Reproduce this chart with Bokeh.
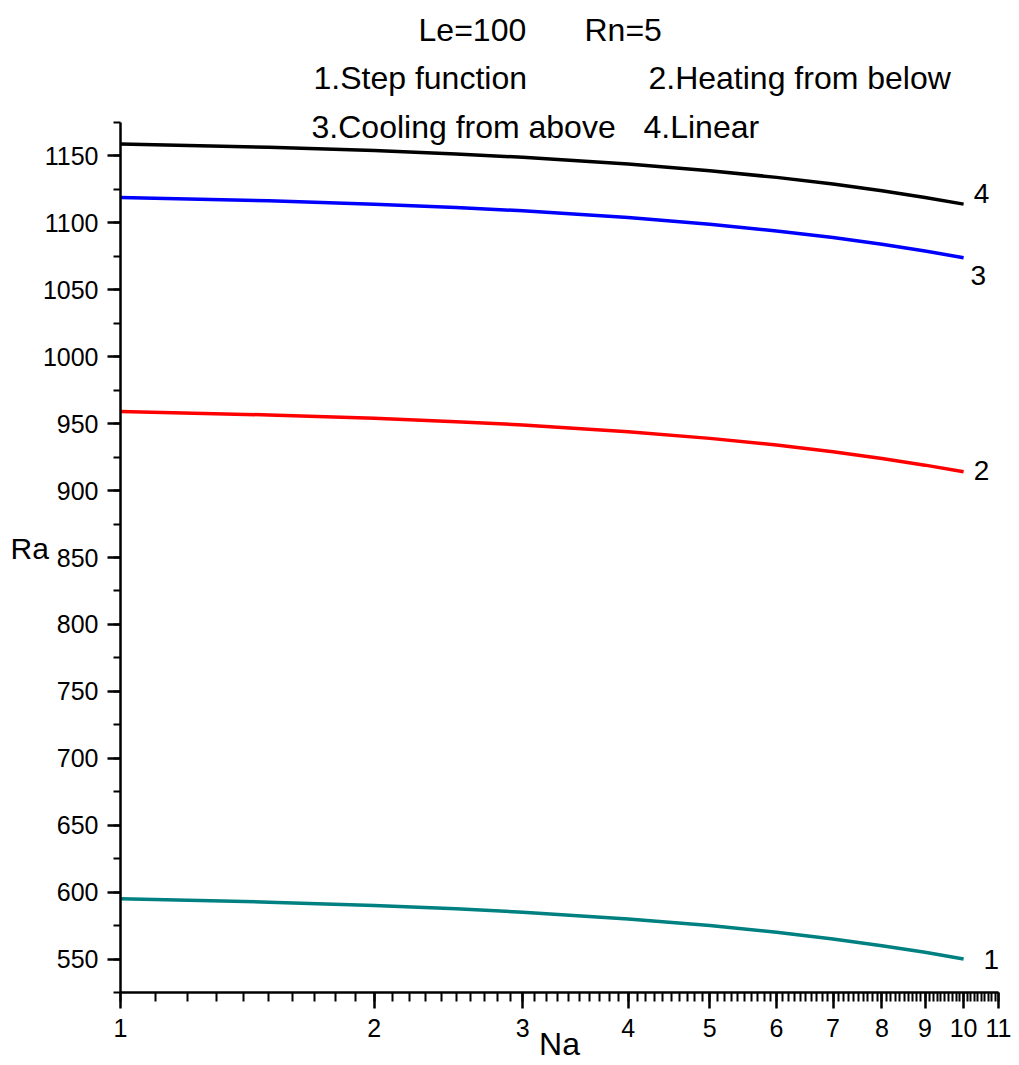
from bokeh.plotting import figure
from bokeh.models import FixedTicker, Label, PrintfTickFormatter
from bokeh.layouts import column
from bokeh.embed import file_html
from bokeh.resources import INLINE

# Data
na = [1, 1.5, 2, 2.5, 3, 4, 5, 6, 7, 8, 9, 10]
ra_step = [595, 592.5, 590, 587.5, 585, 580, 575, 570, 565, 560, 555, 550]
ra_heat = [959, 956.5, 954, 951.5, 949, 944, 939, 934, 929, 924, 919, 914]
ra_cool = [1119, 1116.5, 1114, 1111.5, 1109, 1104, 1099, 1094, 1089, 1084, 1079, 1074]
ra_lin = [1159, 1156.5, 1154, 1151.5, 1149, 1144, 1139, 1134, 1129, 1124, 1119, 1114]

x_major = [1, 2, 3, 4, 5, 6, 7, 8, 9, 10, 11]
x_minor = [round(1 + 0.1 * i, 1) for i in range(101)]
y_major = [550, 600, 650, 700, 750, 800, 850, 900, 950, 1000, 1050, 1100, 1150]
y_minor = [525 + 25 * i for i in range(27)]

FONT = "Liberation Sans"
Y0, Y1 = 525, 1175
PX_PER_Y = 870 / (Y1 - Y0)
HEAD_H = 104
MAIN_FRAME_H = 992 - HEAD_H
Y_TOP = Y0 + MAIN_FRAME_H / PX_PER_Y   # room above the axis end for the third header row

# header strip (same x mapping as the plot below)
h = figure(width=1019, height=HEAD_H, x_axis_type="log", x_range=(1, 11),
           y_range=(Y_TOP, Y_TOP + HEAD_H / PX_PER_Y),
           output_backend="svg", toolbar_location=None,
           min_border_left=120, min_border_right=21, min_border_top=0, min_border_bottom=0)
h.axis.visible = False
h.grid.visible = False
h.outline_line_color = None

p = figure(width=1019, height=1065 - HEAD_H, x_axis_type="log", x_range=h.x_range,
           y_range=(Y0, Y_TOP),
           output_backend="svg", toolbar_location=None,
           min_border_left=120, min_border_right=21, min_border_top=0, min_border_bottom=73)
p.outline_line_color = None
p.xgrid.visible = False
p.ygrid.visible = False

p.line(na, ra_step, line_color="#008080", line_width=3.5)
p.line(na, ra_heat, line_color="#FF0000", line_width=3.5)
p.line(na, ra_cool, line_color="#0000FF", line_width=3.5)
p.line(na, ra_lin, line_color="#000000", line_width=3.5)

p.xaxis.ticker = FixedTicker(ticks=x_major, minor_ticks=x_minor)
p.xaxis.formatter = PrintfTickFormatter(format="%d")
p.yaxis.ticker = FixedTicker(ticks=y_major, minor_ticks=y_minor)
p.yaxis.bounds = (Y0, Y1)

for ax in (p.xaxis[0], p.yaxis[0]):
    ax.axis_line_width = 2.5
    ax.axis_line_color = "black"
    ax.major_tick_line_width = 2.5
    ax.minor_tick_line_width = 2
    ax.major_tick_line_color = "black"
    ax.minor_tick_line_color = "black"
    ax.major_label_text_font = FONT
    ax.major_label_text_font_size = "25px"
    ax.major_label_text_color = "black"
    ax.major_tick_in = 0
    ax.minor_tick_in = 0
    ax.axis_label_text_font = FONT
    ax.axis_label_text_font_style = "normal"
    ax.axis_label_text_color = "black"

p.xaxis.major_tick_out = 16
p.xaxis.minor_tick_out = 9
p.xaxis.major_label_standoff = 10
p.yaxis.major_tick_out = 13
p.yaxis.minor_tick_out = 7
p.yaxis.major_label_standoff = 9

p.yaxis.axis_label = "Ra"
p.yaxis.axis_label_orientation = "horizontal"
p.yaxis.axis_label_text_font_size = "30px"
p.yaxis.axis_label_standoff = -9
p.xaxis.axis_label = "Na"
p.xaxis.axis_label_text_font_size = "32px"
p.xaxis.axis_label_standoff = -14

def lab(fig, x, y, t, size):
    fig.add_layout(Label(x=x, y=y, text=t, text_font=FONT, text_font_size=size,
                         text_align="left", text_baseline="middle", text_color="black"))

# header texts
lab(h, 2.257, 1244, "Le=100", "32px")
lab(h, 3.551, 1244, "Rn=5", "32px")
lab(h, 1.694, 1208, "1.Step function", "32px")
lab(h, 4.229, 1208, "2.Heating from below", "32px")
lab(p, 1.685, 1171.5, "3.Cooling from above", "32px")
lab(p, 4.172, 1171.5, "4.Linear", "32px")

# curve labels
lab(p, 10.28, 1122, "4", "28px")
lab(p, 10.19, 1061, "3", "28px")
lab(p, 10.28, 915, "2", "28px")
lab(p, 10.56, 550, "1", "28px")

open("out.html", "w").write(file_html(column(h, p, spacing=0), INLINE))
